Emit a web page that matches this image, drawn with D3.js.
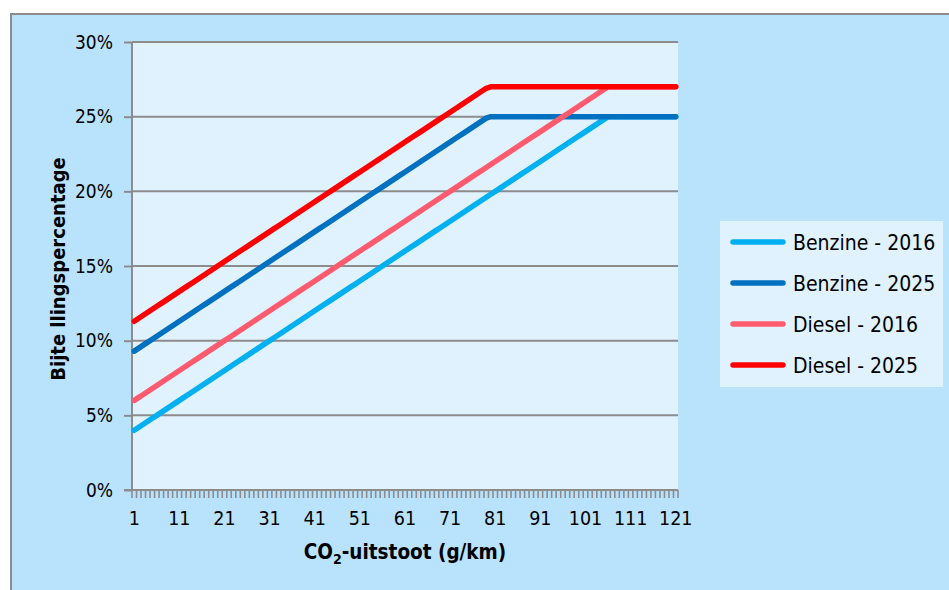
<!DOCTYPE html>
<html>
<head>
<meta charset="utf-8">
<script src="https://cdn.jsdelivr.net/npm/d3@7"></script>
<style>
  body { margin: 0; background: #fff; }
  text { font-family: "DejaVu Sans Condensed", "DejaVu Sans", sans-serif; fill: #000; }
</style>
</head>
<body>
<svg id="chart" width="949" height="590"></svg>
<script>
// CO2 categories 1..121 (g/km)
var categories = d3.range(1, 122);
var xTickLabels = [1, 11, 21, 31, 41, 51, 61, 71, 81, 91, 101, 111, 121];
var yTicks = [0, 5, 10, 15, 20, 25, 30];

var seriesNames = ["Benzine - 2016", "Benzine - 2025", "Diesel - 2016", "Diesel - 2025"];
var seriesColors = ["#00b0f0", "#0070c0", "#ff5b6e", "#ff0000"];

var benzine2016 = [
  4,4.2,4.4,4.6,4.8,5,5.2,5.4,5.6,5.8,
  6,6.2,6.4,6.6,6.8,7,7.2,7.4,7.6,7.8,
  8,8.2,8.4,8.6,8.8,9,9.2,9.4,9.6,9.8,
  10,10.2,10.4,10.6,10.8,11,11.2,11.4,11.6,11.8,
  12,12.2,12.4,12.6,12.8,13,13.2,13.4,13.6,13.8,
  14,14.2,14.4,14.6,14.8,15,15.2,15.4,15.6,15.8,
  16,16.2,16.4,16.6,16.8,17,17.2,17.4,17.6,17.8,
  18,18.2,18.4,18.6,18.8,19,19.2,19.4,19.6,19.8,
  20,20.2,20.4,20.6,20.8,21,21.2,21.4,21.6,21.8,
  22,22.2,22.4,22.6,22.8,23,23.2,23.4,23.6,23.8,
  24,24.2,24.4,24.6,24.8,25,25,25,25,25,
  25,25,25,25,25,25,25,25,25,25,
  25
];
var benzine2025 = [
  9.3,9.5,9.7,9.9,10.1,10.3,10.5,10.7,10.9,11.1,
  11.3,11.5,11.7,11.9,12.1,12.3,12.5,12.7,12.9,13.1,
  13.3,13.5,13.7,13.9,14.1,14.3,14.5,14.7,14.9,15.1,
  15.3,15.5,15.7,15.9,16.1,16.3,16.5,16.7,16.9,17.1,
  17.3,17.5,17.7,17.9,18.1,18.3,18.5,18.7,18.9,19.1,
  19.3,19.5,19.7,19.9,20.1,20.3,20.5,20.7,20.9,21.1,
  21.3,21.5,21.7,21.9,22.1,22.3,22.5,22.7,22.9,23.1,
  23.3,23.5,23.7,23.9,24.1,24.3,24.5,24.7,24.9,25,
  25,25,25,25,25,25,25,25,25,25,
  25,25,25,25,25,25,25,25,25,25,
  25,25,25,25,25,25,25,25,25,25,
  25,25,25,25,25,25,25,25,25,25,
  25
];
var diesel2016 = [
  6,6.2,6.4,6.6,6.8,7,7.2,7.4,7.6,7.8,
  8,8.2,8.4,8.6,8.8,9,9.2,9.4,9.6,9.8,
  10,10.2,10.4,10.6,10.8,11,11.2,11.4,11.6,11.8,
  12,12.2,12.4,12.6,12.8,13,13.2,13.4,13.6,13.8,
  14,14.2,14.4,14.6,14.8,15,15.2,15.4,15.6,15.8,
  16,16.2,16.4,16.6,16.8,17,17.2,17.4,17.6,17.8,
  18,18.2,18.4,18.6,18.8,19,19.2,19.4,19.6,19.8,
  20,20.2,20.4,20.6,20.8,21,21.2,21.4,21.6,21.8,
  22,22.2,22.4,22.6,22.8,23,23.2,23.4,23.6,23.8,
  24,24.2,24.4,24.6,24.8,25,25.2,25.4,25.6,25.8,
  26,26.2,26.4,26.6,26.8,27,27,27,27,27,
  27,27,27,27,27,27,27,27,27,27,
  27
];
var diesel2025 = [
  11.3,11.5,11.7,11.9,12.1,12.3,12.5,12.7,12.9,13.1,
  13.3,13.5,13.7,13.9,14.1,14.3,14.5,14.7,14.9,15.1,
  15.3,15.5,15.7,15.9,16.1,16.3,16.5,16.7,16.9,17.1,
  17.3,17.5,17.7,17.9,18.1,18.3,18.5,18.7,18.9,19.1,
  19.3,19.5,19.7,19.9,20.1,20.3,20.5,20.7,20.9,21.1,
  21.3,21.5,21.7,21.9,22.1,22.3,22.5,22.7,22.9,23.1,
  23.3,23.5,23.7,23.9,24.1,24.3,24.5,24.7,24.9,25.1,
  25.3,25.5,25.7,25.9,26.1,26.3,26.5,26.7,26.9,27,
  27,27,27,27,27,27,27,27,27,27,
  27,27,27,27,27,27,27,27,27,27,
  27,27,27,27,27,27,27,27,27,27,
  27,27,27,27,27,27,27,27,27,27,
  27
];
var allSeries = [benzine2016, benzine2025, diesel2016, diesel2025];

var svg = d3.select("#chart");

// outer chart area (runs off the right and bottom edge)
svg.append("rect")
  .attr("x", 11).attr("y", 14)
  .attr("width", 950).attr("height", 590)
  .attr("fill", "#b9e3fd")
  .attr("stroke", "#8c8c8c")
  .attr("stroke-width", 2);

var plot = {left: 132, right: 678, top: 42, bottom: 490};

var x = d3.scaleBand()
  .domain(categories)
  .range([plot.left, plot.right])
  .padding(0);

var y = d3.scaleLinear()
  .domain([0, 30])
  .range([plot.bottom, plot.top]);

// plot background
svg.append("rect")
  .attr("x", plot.left).attr("y", plot.top)
  .attr("width", plot.right - plot.left).attr("height", plot.bottom - plot.top)
  .attr("fill", "#e0f2fe");

// gridlines
svg.append("g")
  .selectAll("line")
  .data(yTicks.slice(1))
  .enter()
  .append("line")
    .attr("x1", plot.left).attr("x2", plot.right)
    .attr("y1", function(d) { return y(d); })
    .attr("y2", function(d) { return y(d); })
    .attr("stroke", "#8c8c8c")
    .attr("stroke-width", 2);

// Y axis
var yAxis = svg.append("g")
  .attr("transform", "translate(" + plot.left + ",0)")
  .call(d3.axisLeft(y).tickValues(yTicks).tickSize(8).tickPadding(11)
    .tickFormat(function(d) { return d + "%"; }));
yAxis.selectAll("path, line").attr("stroke", "#8c8c8c").attr("stroke-width", 2);
yAxis.select(".domain").attr("d", "M0," + plot.top + "V" + plot.bottom);
yAxis.selectAll("text").style("font-size", "19px").attr("fill", "#000");

// X axis: small tick at every category boundary
var xg = svg.append("g");
xg.append("line")
  .attr("x1", plot.left - 8).attr("x2", plot.right)
  .attr("y1", plot.bottom).attr("y2", plot.bottom)
  .attr("stroke", "#8c8c8c").attr("stroke-width", 2);
xg.selectAll(".tick")
  .data(categories.concat([null]))
  .enter()
  .append("line")
    .attr("x1", function(d) { return d === null ? plot.right : x(d); })
    .attr("x2", function(d) { return d === null ? plot.right : x(d); })
    .attr("y1", plot.bottom).attr("y2", plot.bottom + 8)
    .attr("stroke", "#8c8c8c").attr("stroke-width", 1.6);
xg.selectAll(".lbl")
  .data(xTickLabels)
  .enter()
  .append("text")
    .attr("x", function(d) { return x(d) + x.bandwidth() / 2; })
    .attr("y", 525)
    .attr("text-anchor", "middle")
    .style("font-size", "19.5px")
    .text(function(d) { return d; });

// lines
var line = d3.line()
  .x(function(d, i) { return x(categories[i]) + x.bandwidth() / 2; })
  .y(function(d) { return y(d); });

svg.append("g")
  .selectAll("path")
  .data(allSeries)
  .enter()
  .append("path")
    .attr("d", line)
    .attr("fill", "none")
    .attr("stroke", function(d, i) { return seriesColors[i]; })
    .attr("stroke-width", 5.5)
    .attr("stroke-linecap", "round")
    .attr("stroke-linejoin", "round");

// axis titles
svg.append("text")
  .attr("transform", "translate(65,269) rotate(-90)")
  .attr("text-anchor", "middle")
  .style("font-size", "20px")
  .style("font-weight", "bold")
  .text("Bijte llingspercentage");

var xt = svg.append("text")
  .attr("x", 405).attr("y", 559)
  .attr("text-anchor", "middle")
  .style("font-size", "20.5px")
  .style("font-weight", "bold");
xt.append("tspan").text("CO");
xt.append("tspan").attr("dy", 5).style("font-size", "14px").text("2");
xt.append("tspan").attr("dy", -5).text("-uitstoot (g/km)");

// legend
var legend = svg.append("g");
legend.append("rect")
  .attr("x", 720).attr("y", 221)
  .attr("width", 223).attr("height", 166)
  .attr("fill", "#e0f2fe");
var item = legend.selectAll(".item")
  .data(seriesNames)
  .enter()
  .append("g")
    .attr("transform", function(d, i) { return "translate(0," + (242 + i * 41) + ")"; });
item.append("line")
  .attr("x1", 733).attr("x2", 783)
  .attr("stroke", function(d, i) { return seriesColors[i]; })
  .attr("stroke-width", 5.5)
  .attr("stroke-linecap", "round");
item.append("text")
  .attr("x", 793).attr("y", 7.5)
  .style("font-size", "21px")
  .text(function(d) { return d; });
</script>
</body>
</html>
